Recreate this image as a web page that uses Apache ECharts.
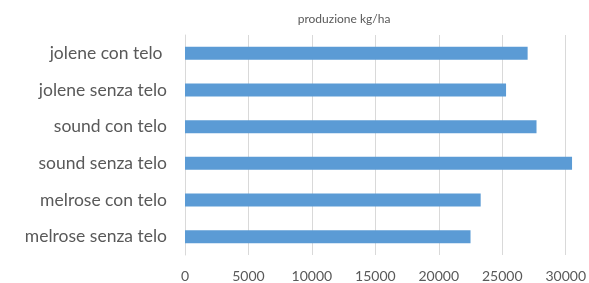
<!DOCTYPE html>
<html>
<head>
<meta charset="utf-8">
<script src="https://cdn.jsdelivr.net/npm/echarts@6/dist/echarts.min.js"></script>
<style>
  html, body { margin: 0; padding: 0; background: #fff; }
  #main { width: 589px; height: 283px; }
</style>
</head>
<body>
<div id="main"></div>
<script>
// categorie dal basso verso l'alto (asse y category)
const categories = ['melrose senza telo', 'melrose con telo', 'sound senza telo', 'sound con telo', 'jolene senza telo', 'jolene con telo ']
const produzione = [22500, 23300, 30500, 27700, 25300, 27000]
const xTicks = [0, 5000, 10000, 15000, 20000, 25000, 30000]

const chart = echarts.init(document.getElementById('main'))

const option = {
  animation: false,
  title: {
    text: 'produzione kg/ha',
    left: 339,
    top: 8,
    textAlign: 'center',
    textStyle: {
      fontFamily: 'Lato',
      fontSize: 12,
      fontWeight: 'normal',
      color: '#595959'
    }
  },
  grid: {
    left: 185,
    right: 20,
    top: 35,
    bottom: 28,
    containLabel: false
  },
  xAxis: {
    type: 'value',
    min: xTicks[0],
    max: xTicks[xTicks.length - 1],
    interval: 5000,
    axisLine: { show: false },
    axisTick: { show: false },
    axisLabel: {
      margin: 14,
      fontFamily: 'Lato',
      fontSize: 14,
      color: '#595959',
      formatter: v => String(v)
    },
    splitLine: { lineStyle: { color: '#d9d9d9', width: 1 } }
  },
  yAxis: {
    type: 'category',
    data: categories,
    axisLine: { lineStyle: { color: '#d9d9d9' } },
    axisTick: { show: false },
    axisLabel: {
      margin: 18,
      fontFamily: 'Lato',
      fontSize: 17.5,
      color: '#595959'
    }
  },
  series: [
    {
      type: 'bar',
      data: produzione,
      barWidth: 13,
      clip: false,
      itemStyle: { color: '#5b9bd5' }
    }
  ]
}

chart.setOption(option)
</script>
</body>
</html>
